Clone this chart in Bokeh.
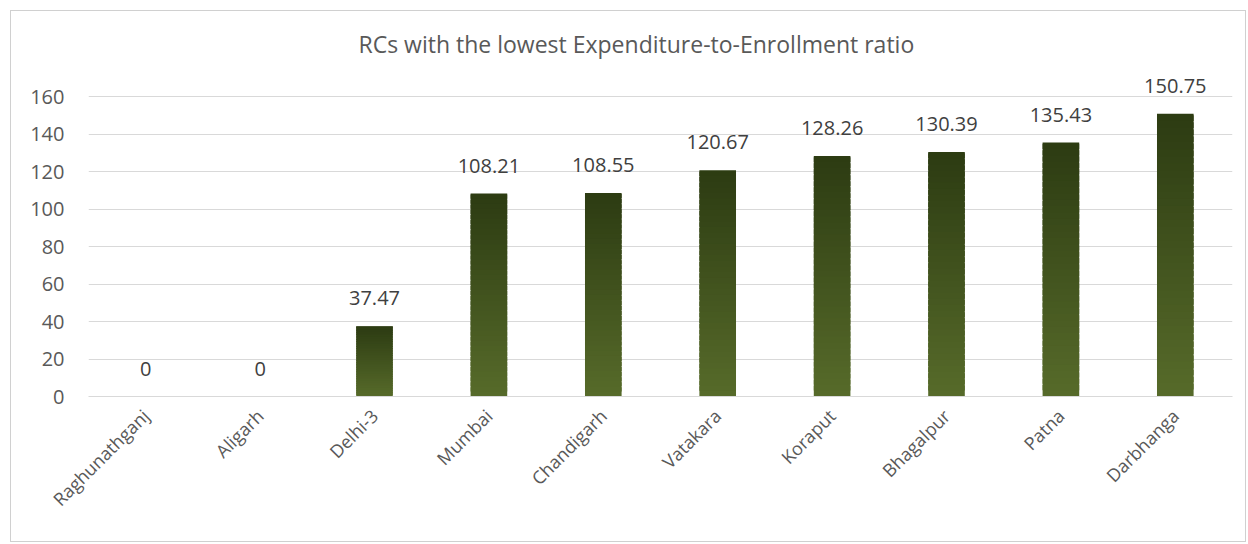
from bokeh.plotting import figure
from bokeh.models import ColumnDataSource, Range1d, FixedTicker, Title
from bokeh.core.properties import value
from bokeh.embed import file_html
from bokeh.resources import INLINE

categories = ["Raghunathganj", "Aligarh", "Delhi-3", "Mumbai", "Chandigarh",
              "Vatakara", "Koraput", "Bhagalpur", "Patna", "Darbhanga"]
values = [0, 0, 37.47, 108.21, 108.55, 120.67, 128.26, 130.39, 135.43, 150.75]
labels = ["0", "0", "37.47", "108.21", "108.55", "120.67", "128.26", "130.39", "135.43", "150.75"]
y_ticks = [0, 20, 40, 60, 80, 100, 120, 140, 160]

FONT = "Open Sans"
TOP_RGB = (0x2c, 0x3b, 0x12)
BOT_RGB = (0x57, 0x6b, 0x2a)
N = 40

# gradient slices for each bar (bottom to top, each slightly overlapping the next)
xs, bottoms, tops, colors = [], [], [], []
for c, v in zip(categories, values):
    if v <= 0:
        continue
    for i in range(N):
        t = (i + 0.5) / N
        r = round(BOT_RGB[0] + (TOP_RGB[0] - BOT_RGB[0]) * t)
        g = round(BOT_RGB[1] + (TOP_RGB[1] - BOT_RGB[1]) * t)
        b = round(BOT_RGB[2] + (TOP_RGB[2] - BOT_RGB[2]) * t)
        xs.append(c)
        bottoms.append(v * i / N)
        tops.append(min(v, v * (i + 1.8) / N))
        colors.append("#%02x%02x%02x" % (r, g, b))

bar_src = ColumnDataSource(dict(x=xs, bottom=bottoms, top=tops, color=colors))
lab_src = ColumnDataSource(dict(x=categories, y=values, text=labels))

# y range extends above 160 (invisible headroom) so the top value label is not clipped
p = figure(x_range=categories, y_range=Range1d(0, 176), width=1236, height=532,
           output_backend="svg", toolbar_location=None,
           min_border_left=77, min_border_right=15, min_border_top=55, min_border_bottom=147)

p.title = Title(text="RCs with the lowest Expenditure-to-Enrollment ratio", align="left",
                text_font=FONT, text_font_size="23px", text_font_style="normal",
                text_color="#595959", standoff=14, offset=270)

p.vbar(x="x", bottom="bottom", top="top", width=0.32, source=bar_src,
       fill_color="color", line_color=None)

p.text(x="x", y="y", text="text", source=lab_src, text_align="center",
       text_baseline="bottom", y_offset=-21, text_font_size="20px",
       text_color="#404040", text_font=value(FONT))

p.yaxis.ticker = FixedTicker(ticks=y_ticks)
p.yaxis.axis_line_color = None
p.yaxis.major_tick_line_color = None
p.yaxis.minor_tick_line_color = None
p.yaxis.major_label_text_font = FONT
p.yaxis.major_label_text_font_size = "20px"
p.yaxis.major_label_text_color = "#595959"
p.yaxis.major_label_standoff = 18

p.xaxis.axis_line_color = "#d9d9d9"
p.xaxis.major_tick_line_color = None
p.xaxis.minor_tick_line_color = None
p.xaxis.major_label_orientation = 0.785398
p.xaxis.major_label_text_font = FONT
p.xaxis.major_label_text_font_size = "18px"
p.xaxis.major_label_text_color = "#595959"
p.xaxis.major_label_standoff = 10

p.xgrid.grid_line_color = None
p.ygrid.grid_line_color = "#d9d9d9"
p.ygrid.grid_line_width = 1
p.outline_line_color = None
p.background_fill_color = "white"
p.border_fill_color = "white"
p.styles = {"border": "1px solid #d0d0d0", "margin-left": "10px", "margin-top": "10px"}

open("out.html", "w").write(file_html(p, INLINE))
